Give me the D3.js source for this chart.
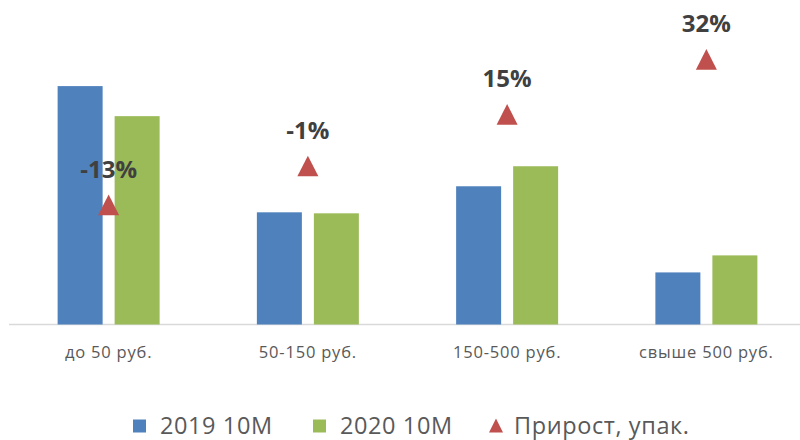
<!DOCTYPE html>
<html><head><meta charset="utf-8">
<script src="https://cdn.jsdelivr.net/npm/d3@7"></script>
<style>body{margin:0;background:#fff}svg{display:block}</style>
</head><body>
<svg id="chart" width="800" height="440"></svg>
<script>
const categories = ["до 50 руб.", "50-150 руб.", "150-500 руб.", "свыше 500 руб."];
const series2019 = [238, 112, 138, 52];
const series2020 = [208, 111, 158, 69];
const growth = [-0.13, -0.01, 0.15, 0.32];
const growthLabels = ["-13%", "-1%", "15%", "32%"];
const seriesNames = ["2019 10M", "2020 10M", "Прирост, упак."];
const colors = {b: "#4f81bd", g: "#9bbb59", r: "#c0504d"};

const svg = d3.select("#chart");
const baseY = 324.5, topY = 24;
const x = d3.scaleBand().domain(categories).range([9, 806]);
const x1 = d3.scaleBand().domain([0, 1]).range([-51, 51]).paddingInner(12/57);
const y = d3.scaleLinear().domain([0, 300]).range([baseY, topY]);
const y2 = d3.scaleLinear().domain([-0.5, 0.4]).range([baseY, baseY - 291]);

// axis line
svg.append("line").attr("x1", 9).attr("x2", 806).attr("y1", baseY).attr("y2", baseY)
  .attr("stroke", "#d9d9d9").attr("stroke-width", 1.5);

const groups = [series2019, series2020];
const gcol = [colors.b, colors.g];
groups.forEach((vals, si) => {
  svg.selectAll(".bar" + si).data(vals).join("rect")
    .attr("class", "bar" + si)
    .attr("x", (d, i) => x(categories[i]) + x.bandwidth() / 2 + x1(si))
    .attr("width", x1.bandwidth())
    .attr("y", d => y(d))
    .attr("height", d => baseY - y(d))
    .attr("fill", gcol[si]);
});

// category labels
const xAxis = svg.append("g").attr("transform", `translate(0,${baseY})`)
  .call(d3.axisBottom(x).tickSize(0).tickPadding(22));
xAxis.select(".domain").remove();
xAxis.selectAll("text").attr("font-family", "Open Sans").attr("font-size", 16.5)
  .attr("fill", "#595959").attr("letter-spacing", 0.8);

// triangles
const tri = "M0,-10.3L10.5,10.3L-10.5,10.3Z";
svg.selectAll(".tri").data(growth).join("path")
  .attr("class", "tri")
  .attr("d", tri)
  .attr("transform", (d, i) => `translate(${x(categories[i]) + x.bandwidth() / 2},${y2(d)})`)
  .attr("fill", colors.r);

svg.selectAll(".glab").data(growth).join("text")
  .attr("class", "glab")
  .attr("x", (d, i) => x(categories[i]) + x.bandwidth() / 2)
  .attr("y", d => y2(d) - 36)
  .attr("dy", "0.36em")
  .attr("text-anchor", "middle")
  .attr("font-family", "Open Sans").attr("font-weight", "bold").attr("font-size", 24)
  .attr("fill", "#404040")
  .text((d, i) => growthLabels[i]);

// legend
const leg = [
  {x: 133, type: "rect", c: colors.b, t: seriesNames[0]},
  {x: 313, type: "rect", c: colors.g, t: seriesNames[1]},
  {x: 489, type: "tri", c: colors.r, t: seriesNames[2]}
];
const ly = 426;
leg.forEach(l => {
  if (l.type === "rect") {
    svg.append("rect").attr("x", l.x).attr("y", ly - 6.5).attr("width", 13).attr("height", 13).attr("fill", l.c);
  } else {
    svg.append("path").attr("d", "M0,-7L7,7L-7,7Z").attr("transform", `translate(${l.x + 7},${ly - 0.5})`).attr("fill", l.c);
  }
  svg.append("text").attr("x", l.x + (l.type === "rect" ? 27 : 25)).attr("y", ly).attr("dy", "0.35em")
    .attr("font-family", "Open Sans").attr("font-size", 23.5).attr("fill", "#595959")
    .attr("letter-spacing", 0.6)
    .text(l.t);
});
</script>
</body></html>
